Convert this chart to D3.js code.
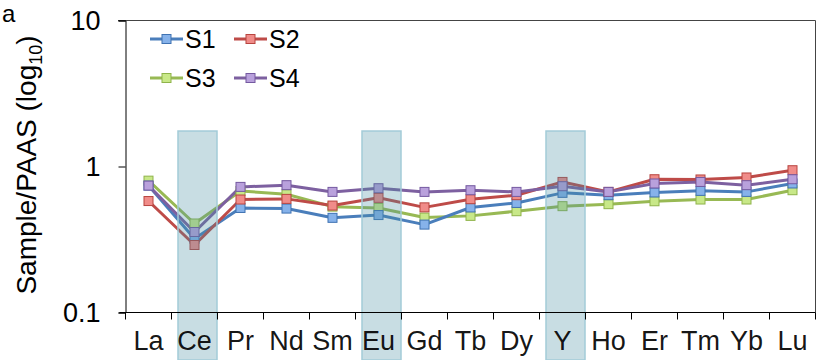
<!DOCTYPE html>
<html><head><meta charset="utf-8">
<script src="https://cdn.jsdelivr.net/npm/d3@7"></script>
<style>body{margin:0;background:#fff}svg{display:block;font-family:"Liberation Sans",Arial,sans-serif}</style>
</head><body><svg id="c" width="817" height="360"></svg>
<script>
const categories = ["La","Ce","Pr","Nd","Sm","Eu","Gd","Tb","Dy","Y","Ho","Er","Tm","Yb","Lu"];
const S1 = [0.74,0.32,0.52,0.515,0.445,0.465,0.40,0.524,0.563,0.66,0.636,0.664,0.681,0.67,0.765];
const S2 = [0.58,0.29,0.594,0.60,0.54,0.61,0.525,0.597,0.636,0.784,0.67,0.818,0.815,0.841,0.943];
const S3 = [0.80,0.407,0.68,0.646,0.531,0.52,0.447,0.459,0.494,0.535,0.552,0.578,0.594,0.594,0.688];
const S4 = [0.74,0.356,0.725,0.745,0.67,0.71,0.67,0.688,0.67,0.733,0.67,0.765,0.784,0.745,0.818];
const seriesNames = ["S1","S2","S3","S4"];
const highlighted = ["Ce","Eu","Y"];
const bandTop = 1.75;
const yTicks = [0.1, 1, 10];
const yTitle = "Sample/PAAS (log";
const panelLabel = "a";

const series = [
  {name:seriesNames[0], values:S1, line:"#4a7ebb", fill:"#86b2ea", stroke:"#3f72b2"},
  {name:seriesNames[1], values:S2, line:"#be4b48", fill:"#f08c89", stroke:"#b8443f"},
  {name:seriesNames[2], values:S3, line:"#98b954", fill:"#c8e888", stroke:"#8fb34a"},
  {name:seriesNames[3], values:S4, line:"#7d60a0", fill:"#b9a1dc", stroke:"#7459a0"}
];

const svg = d3.select("#c");
const L = 125.5, R = 815.5, T = 20.5, B = 312.5;
const x = d3.scaleBand().domain(categories).range([L, R]);
const y = d3.scaleLog().domain([0.1, 10]).range([B, T]);
const cx = c => x(c) + x.bandwidth()/2;
const FONT = "Liberation Sans, Arial, sans-serif";

// frame
svg.append("line").attr("x1",118).attr("x2",R).attr("y1",T).attr("y2",T).attr("stroke","#444").attr("stroke-width",1);
svg.append("line").attr("x1",R).attr("x2",R).attr("y1",T).attr("y2",B).attr("stroke","#444").attr("stroke-width",1);

// y axis
const ya = svg.append("g").attr("transform",`translate(${L},0)`)
  .call(d3.axisLeft(y).tickValues(yTicks).tickFormat(d=>d3.format("")(d)).tickSize(7).tickPadding(18));
ya.select(".domain").attr("stroke","#000");
ya.selectAll(".tick line").attr("stroke","#000");
ya.selectAll(".tick text").attr("font-size",27).attr("fill","#000").attr("font-family",FONT);

// lines
const line = d3.line().x((d,i)=>cx(categories[i])).y(d=>y(d));
const order = [series[2], series[0], series[1], series[3]];
order.forEach(s => {
  svg.append("path").attr("d", line(s.values)).attr("fill","none")
    .attr("stroke", s.line).attr("stroke-width",3).attr("stroke-linejoin","round");
});
order.forEach(s => {
  svg.append("g").selectAll("rect").data(s.values).join("rect")
    .attr("x",(d,i)=>cx(categories[i])-4.5).attr("y",d=>y(d)-4.5)
    .attr("width",9).attr("height",9)
    .attr("fill",s.fill).attr("stroke",s.stroke).attr("stroke-width",1);
});

// highlight bands
svg.append("g").selectAll("rect").data(highlighted).join("rect")
  .attr("x",d=>cx(d)-16.5).attr("width",39)
  .attr("y",y(bandTop)).attr("height",360-y(bandTop))
  .attr("fill","rgb(72,142,162)").attr("fill-opacity",0.3)
  .attr("stroke","#a3cbd8").attr("stroke-width",1.5);

// x axis
const xa = svg.append("g").attr("transform",`translate(0,${B})`)
  .call(d3.axisBottom(x).tickSize(0).tickPadding(18.5));
xa.select(".domain").attr("stroke","#000").attr("d",`M${L-6},0H${R}`);
xa.selectAll(".tick text").attr("font-size",27).attr("fill","#000").attr("fill-opacity",0.92).attr("font-family",FONT);
const bounds = categories.map(c => x(c)).concat([R]);
svg.append("g").selectAll("line").data(bounds).join("line")
  .attr("x1",d=>d).attr("x2",d=>d).attr("y1",B).attr("y2",B+7).attr("stroke","#000");

// legend
const leg = svg.append("g");
series.forEach((s,i) => {
  const lx = 150 + (i%2)*84, ly = 39 + Math.floor(i/2)*39;
  leg.append("line").attr("x1",lx).attr("x2",lx+33).attr("y1",ly).attr("y2",ly).attr("stroke",s.line).attr("stroke-width",3);
  leg.append("rect").attr("x",lx+16.5-4.5).attr("y",ly-4.5).attr("width",9).attr("height",9)
    .attr("fill",s.fill).attr("stroke",s.stroke);
  leg.append("text").attr("x",lx+35).attr("y",ly+9).attr("font-size",25).attr("fill","#000").text(s.name);
});

// y title
const yt = svg.append("text").attr("transform","translate(36,165) rotate(-90)")
  .attr("text-anchor","middle").attr("font-size",28).attr("fill","#000");
yt.append("tspan").text(yTitle);
yt.append("tspan").attr("font-size",18).attr("dy",6).text("10");
yt.append("tspan").attr("dy",-6).text(")");

svg.append("text").attr("x",2).attr("y",22).attr("font-size",24).attr("fill","#000").text(panelLabel);
</script></body></html>
